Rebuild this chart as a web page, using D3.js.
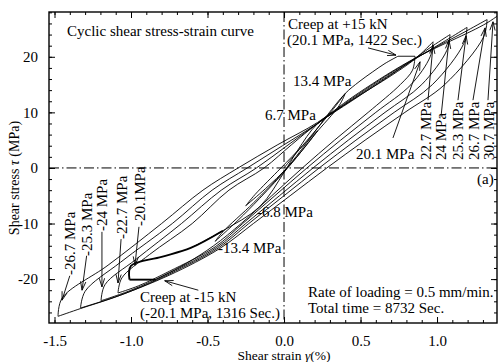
<!DOCTYPE html>
<html><head><meta charset="utf-8">
<script src="https://cdn.jsdelivr.net/npm/d3@7"></script>
<style>
body{margin:0;background:#fff}
svg{display:block}
text{font-family:"Liberation Serif","Times New Roman","DejaVu Serif",serif;fill:#000}
</style>
</head><body>
<svg id="chart" width="498" height="362"></svg>
<script>
// ---------- data (strain %, stress MPa) ----------
const xMajorTicks = [-1.5, -1.0, -0.5, 0.0, 0.5, 1.0];
const xTickLabels = ["-1.5", "-1.0", "-0.5", "0.0", "0.5", "1.0"];
const yMajorTicks = [-20, -10, 0, 10, 20];
const yTickLabels = ["-20", "-10", "0", "10", "20"];

// small loops (virgin part)
const virginCurve = [[0,0],[0.1,3.3],[0.22,6.7]];
const unload67 = [[0.22,6.7],[0.15,4.2],[0.02,0],[-0.12,-3.7],[-0.25,-6.8]];
const reload67 = [[-0.25,-6.8],[-0.19,-4.8],[-0.02,0],[0.12,4],[0.22,7.2],[0.31,10.2],[0.40,13.4]];
const unload134 = [[0.40,13.4],[0.36,11.2],[0.2,6],[0.04,0.5],[-0.16,-5.5],[-0.3,-9.4],[-0.45,-13.2]];
const reload134 = [[-0.45,-13.2],[-0.40,-11.5],[-0.2,-6.3],[0,-0.6],[0.15,4.6],[0.28,9.4],[0.40,13.4],[0.49,15.5],[0.58,17.3],[0.66,18.8],[0.745,20.1]];
// creep segments
const creepPos = [[0.745,20.1],[0.856,20.1]];
const creepNeg = [[-0.84,-20.1],[-1.01,-20.1]];
// unloading branches (positive peak -> negative peak)
const unload0 = [[0.856,20.1],[0.84,17.6],[0.76,15],[0.55,10],[0.33,5],[0.12,0],[-0.08,-5],[-0.28,-10],[-0.46,-14],[-0.64,-17.2],[-0.84,-20.1]];
const unload1 = [[0.974,22.7],[0.955,20],[0.83,15],[0.60,10],[0.37,5],[0.15,0],[-0.06,-5],[-0.27,-10],[-0.45,-14.2],[-0.75,-18.6],[-0.95,-21.2],[-1.085,-22.5]];
const unload2 = [[1.085,24.0],[1.065,21.2],[0.90,15],[0.66,10],[0.42,5],[0.19,0],[-0.03,-5],[-0.25,-10],[-0.44,-14.3],[-0.75,-18.9],[-1.0,-22.0],[-1.196,-23.9]];
const unload3 = [[1.196,25.3],[1.175,22.4],[0.97,15],[0.72,10],[0.47,5],[0.23,0],[0.0,-5],[-0.23,-10],[-0.43,-14.4],[-0.75,-19.1],[-1.05,-22.7],[-1.33,-25.2]];
const unload4 = [[1.327,26.7],[1.305,23.6],[1.05,15],[0.79,10],[0.53,5],[0.28,0],[0.04,-5],[-0.2,-10],[-0.42,-14.5],[-0.75,-19.3],[-1.1,-23.2],[-1.33,-25.3],[-1.477,-26.7]];
// reloading branches (negative peak -> next positive peak)
const reload0a = [[-1.01,-20.1],[-1.0,-17.6],[-0.8,-16],[-0.61,-14.4],[-0.4,-11.3]];
const reload0b = [[-0.61,-14.4],[-0.4,-11.3],[-0.16,-7],[0.0,-0.8],[0.09,3.2],[0.22,8],[0.45,12.3],[0.7,16.6],[0.856,19.6],[0.974,22.7]];
const reload1 = [[-1.085,-22.5],[-1.06,-19.8],[-0.88,-15.6],[-0.60,-10],[-0.36,-4],[-0.13,0],[0.05,4.2],[0.22,8],[0.45,12.2],[0.75,17.7],[0.974,22.0],[1.085,24.0]];
const reload2 = [[-1.196,-23.9],[-1.17,-21],[-0.97,-16.5],[-0.67,-10],[-0.41,-4],[-0.18,0],[0.02,4],[0.22,8],[0.45,12.4],[0.78,18.3],[1.085,23.4],[1.196,25.3]];
const reload3 = [[-1.33,-25.2],[-1.30,-22.2],[-1.07,-17],[-0.73,-10],[-0.47,-4],[-0.24,0],[-0.01,4],[0.22,8],[0.45,12.6],[0.8,18.8],[1.196,24.7],[1.327,26.7]];
const reload4 = [[-1.477,-26.7],[-1.45,-23.4],[-1.15,-17.5],[-0.80,-10],[-0.53,-4],[-0.30,0],[-0.04,4.2],[0.22,8.2],[0.45,12.8],[0.82,19.2],[1.327,26.1],[1.45,28.5]];

const thinBranches = [virginCurve, unload67, reload67, unload134, reload134, creepPos,
  unload0, unload1, unload2, unload3, unload4, reload0b, reload1, reload2, reload3, reload4];
const boldBranches = [reload0a, creepNeg];

// annotation arrows: [tail, tip] in data units
const arrowTails = [[0.549,21.6],[-0.56,-22.0],[0.712,5.4],[0.941,12.2],[1.026,9.2],[1.137,12.2],[1.235,12.2],[1.333,12.2],
                    [-1.40,-19.4],[-1.29,-15.8],[-1.19,-11.5],[-1.065,-12.8],[-0.948,-10.6]];
const arrowTips  = [[0.732,20.3],[-0.78,-20.3],[0.889,19.1],[0.974,22.1],[1.078,23.0],[1.19,23.8],[1.314,25.2],[1.366,26.3],
                    [-1.451,-23.8],[-1.32,-22.0],[-1.19,-21.4],[-1.085,-20.7],[-0.974,-17.5]];

// ---------- drawing ----------
const L = 49, R = 497, T = 12, B = 323;
const svg = d3.select("#chart");
const x = d3.scaleLinear().domain([-1.536, 1.392]).range([L, R]);
const y = d3.scaleLinear().domain([-27.9, 28.06]).range([B, T]);

svg.append("defs").append("clipPath").attr("id","clip")
  .append("rect").attr("x",L).attr("y",T).attr("width",R-L).attr("height",B-T);

// dash-dot zero lines
svg.append("line").attr("x1",L).attr("x2",R).attr("y1",y(0)).attr("y2",y(0))
  .attr("stroke","#000").attr("stroke-width",1).attr("stroke-dasharray","10,3,1.5,3");
svg.append("line").attr("x1",x(0)).attr("x2",x(0)).attr("y1",T).attr("y2",B)
  .attr("stroke","#000").attr("stroke-width",1).attr("stroke-dasharray","10,3,1.5,3");

// curves
const line = d3.line().x(d=>x(d[0])).y(d=>y(d[1])).curve(d3.curveCatmullRom.alpha(0.5));
const g = svg.append("g").attr("clip-path","url(#clip)");
g.selectAll("path.thin").data(thinBranches).join("path").attr("class","thin")
  .attr("d", line).attr("fill","none").attr("stroke","#000").attr("stroke-width",0.9);
g.selectAll("path.bold").data(boldBranches).join("path").attr("class","bold")
  .attr("d", line).attr("fill","none").attr("stroke","#000").attr("stroke-width",1.9);

// arrows
const ag = svg.append("g");
arrowTails.forEach((t,i)=>{
  const p = arrowTips[i];
  const x1 = x(t[0]), y1 = y(t[1]), x2 = x(p[0]), y2 = y(p[1]);
  ag.append("line").attr("x1",x1).attr("y1",y1).attr("x2",x2).attr("y2",y2)
    .attr("stroke","#000").attr("stroke-width",0.9);
  const ang = Math.atan2(y2-y1, x2-x1);
  const len = 9, spread = 0.3;
  [ang+Math.PI-spread, ang+Math.PI+spread].forEach(a=>{
    ag.append("line").attr("x1",x2).attr("y1",y2)
      .attr("x2",x2+len*Math.cos(a)).attr("y2",y2+len*Math.sin(a))
      .attr("stroke","#000").attr("stroke-width",0.9);
  });
});

// axes
const fmtX = (d,i)=>xTickLabels[i];
const fmtY = (d,i)=>yTickLabels[i];
const xMinor = d3.range(-15, 14).map(v=>v/10);
const yMinor = d3.range(-26, 29, 2);
const FONT = '"Liberation Serif","Times New Roman",serif';

function tickStyle(sel){ sel.attr("font-family",FONT); sel.select(".domain").remove(); sel.selectAll("line").attr("stroke","#000").attr("stroke-width",1); }

svg.append("g").attr("transform",`translate(0,${B})`)
  .call(d3.axisBottom(x).tickValues(xMajorTicks).tickFormat(fmtX).tickSize(-6).tickPadding(12))
  .call(tickStyle).selectAll("text").attr("font-size",15);
svg.append("g").attr("transform",`translate(0,${B})`)
  .call(d3.axisBottom(x).tickValues(xMinor).tickFormat("").tickSize(-3)).call(tickStyle);
svg.append("g").attr("transform",`translate(0,${T})`)
  .call(d3.axisTop(x).tickValues(xMajorTicks).tickFormat("").tickSize(-6)).call(tickStyle);
svg.append("g").attr("transform",`translate(0,${T})`)
  .call(d3.axisTop(x).tickValues(xMinor).tickFormat("").tickSize(-3)).call(tickStyle);

svg.append("g").attr("transform",`translate(${L},0)`)
  .call(d3.axisLeft(y).tickValues(yMajorTicks).tickFormat(fmtY).tickSize(-6).tickPadding(11))
  .call(tickStyle).selectAll("text").attr("font-size",15);
svg.append("g").attr("transform",`translate(${L},0)`)
  .call(d3.axisLeft(y).tickValues(yMinor).tickFormat("").tickSize(-3)).call(tickStyle);
svg.append("g").attr("transform",`translate(${R},0)`)
  .call(d3.axisRight(y).tickValues(yMajorTicks).tickFormat("").tickSize(-6)).call(tickStyle);
svg.append("g").attr("transform",`translate(${R},0)`)
  .call(d3.axisRight(y).tickValues(yMinor).tickFormat("").tickSize(-3)).call(tickStyle);

// frame
svg.append("rect").attr("x",L).attr("y",T).attr("width",R-L).attr("height",B-T)
  .attr("fill","none").attr("stroke","#000").attr("stroke-width",1.4);

// axis titles
const xt = svg.append("text").attr("x",284).attr("y",359.5).attr("text-anchor","middle").attr("font-size",13.5);
xt.append("tspan").text("Shear strain ");
xt.append("tspan").attr("font-style","italic").text("γ");
xt.append("tspan").text("(%)");
const yt = svg.append("text").attr("transform","translate(19,178) rotate(-90)").attr("text-anchor","middle").attr("font-size",14);
yt.append("tspan").text("Shear stress ");
yt.append("tspan").attr("font-style","italic").text("τ");
yt.append("tspan").text(" (MPa)");

// annotation text
const notes = [
  {t:"Cyclic shear stress-strain curve", x:67, y:36},
  {t:"Creep at +15 kN", x:288, y:29},
  {t:"(20.1 MPa, 1422 Sec.)", x:287, y:45},
  {t:"13.4 MPa", x:293, y:86},
  {t:"6.7 MPa", x:265, y:120},
  {t:"20.1 MPa", x:356, y:159},
  {t:"(a)", x:477, y:184},
  {t:"-6.8 MPa", x:257, y:217},
  {t:"-13.4 MPa", x:218, y:253},
  {t:"Creep at -15 kN", x:140, y:302},
  {t:"(-20.1 MPa, 1316 Sec.)", x:140, y:318},
  {t:"Rate of loading = 0.5 mm/min.", x:308, y:297},
  {t:"Total time = 8732 Sec.", x:308, y:313}
];
svg.append("g").selectAll("text").data(notes).join("text")
  .attr("x",d=>d.x).attr("y",d=>d.y).attr("font-size",15).text(d=>d.t);

const vnotes = [
  {t:"22.7 MPa", x:431, y:160},
  {t:"24 MPa", x:446, y:160},
  {t:"25.3 MPa", x:463, y:160},
  {t:"26.7 MPa", x:479, y:160},
  {t:"30.7 MPa", x:494, y:160},
  {t:"-26.7 MPa", x:75, y:275},
  {t:"-25.3 MPa", x:92, y:256},
  {t:"-24 MPa", x:107, y:231},
  {t:"-22.7 MPa", x:127, y:239},
  {t:"-20.1MPa", x:145, y:226}
];
svg.append("g").selectAll("text").data(vnotes).join("text")
  .attr("transform",d=>`translate(${d.x},${d.y}) rotate(-90)`).attr("font-size",15).text(d=>d.t);
</script>
</body></html>
